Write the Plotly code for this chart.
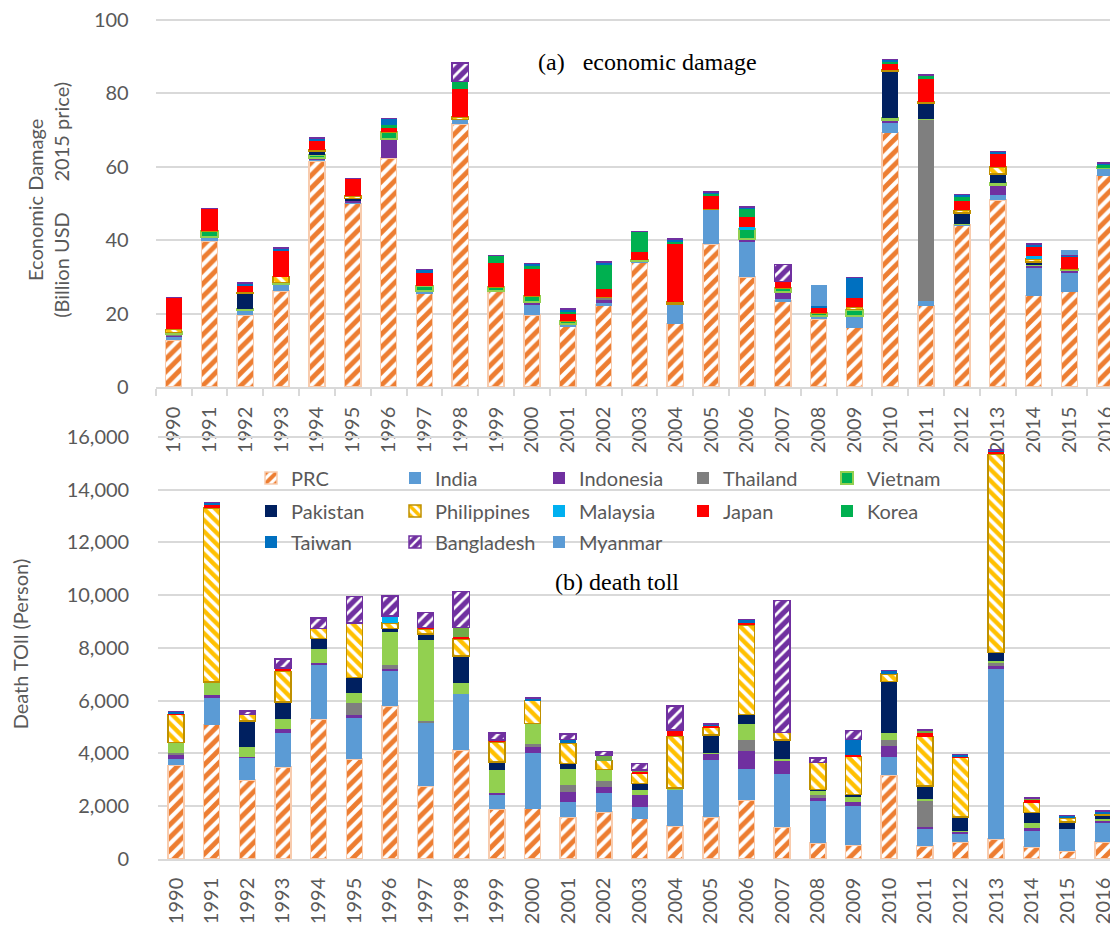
import plotly.graph_objects as go

years = [str(y) for y in range(1990, 2017)]
countries = ["PRC", "India", "Indonesia", "Thailand", "Vietnam", "Pakistan", "Philippines",
             "Malaysia", "Japan", "Korea", "Taiwan", "Bangladesh", "Myanmar"]

# ---- (a) economic damage, billion USD (2015 price) ----
dmg_prc = [12.7, 39.8, 19.5, 26.2, 61.5, 50.0, 62.4, 25.6, 71.6, 26.2, 19.6, 16.7, 22.4, 34.0,
           17.3, 38.9, 30.0, 23.5, 18.4, 16.2, 69.3, 22.2, 44.2, 50.9, 24.9, 26.0, 57.6]
dmg_india = [1.1, 1.1, 1.4, 1.8, 0.7, 0.5, 0, 0.5, 1.3, 0, 3.1, 0.4, 0.4, 0.4,
             5.3, 9.6, 9.8, 0.5, 0.9, 3.1, 2.9, 1.3, 0.3, 1.5, 7.5, 5.3, 2.0]
dmg_indonesia = [0.3, 0, 0, 0, 0.3, 0.4, 5.1, 0, 0, 0, 0.5, 0, 0.9, 0,
                 0, 0, 0.4, 1.8, 0, 0, 0.5, 0, 0, 2.7, 0.9, 0.5, 0]
dmg_thailand = [0.4, 0, 0, 0, 0, 0, 0, 0, 0, 0, 0, 0, 0.7, 0,
                0, 0, 0, 0, 0, 0, 0, 49.5, 0, 0, 0, 0, 0]
dmg_vietnam = [0.4, 1.5, 0.4, 0.5, 0.7, 0, 2.0, 1.5, 0, 1.0, 1.5, 0.9, 0, 0.3,
               0, 0, 2.9, 1.1, 0.9, 1.8, 0.7, 0, 0, 0.5, 0, 0.3, 0.4]
dmg_pakistan = [0, 0, 4.2, 0, 1.1, 0.5, 0, 0, 0, 0, 0, 0, 0, 0,
                0, 0, 0, 0, 0, 0, 12.7, 4.2, 2.9, 2.4, 0.7, 0, 0]
dmg_philippines = [0.8, 0, 0.3, 1.6, 0.3, 0.7, 0, 0, 0.7, 0, 0, 0, 0, 0,
                   0.5, 0, 0, 0, 0, 0.7, 0.4, 0.5, 0.7, 2.0, 0.9, 0, 0]
dmg_malaysia = [0, 0, 0, 0, 0, 0, 0, 0, 0, 0, 0, 0, 0, 0,
                0, 0, 0.5, 0, 0, 0, 0, 0, 0, 0, 0.7, 0, 0]
dmg_japan = [8.7, 6.2, 1.8, 7.3, 2.5, 4.7, 1.3, 3.5, 7.6, 6.7, 7.5, 2.0, 2.2, 2.2,
             15.8, 3.5, 2.7, 1.8, 1.5, 2.5, 1.8, 6.2, 2.7, 3.5, 2.5, 3.5, 0]
dmg_korea = [0, 0, 0, 0, 0, 0, 0.5, 0, 2.0, 2.0, 0.9, 0.5, 6.9, 5.5,
             0.7, 0.7, 2.4, 0, 0, 0, 0.5, 1.1, 0.9, 0, 0, 0, 0.4]
dmg_taiwan = [0, 0, 0.7, 0.5, 0.7, 0, 1.8, 0.9, 0, 0, 0.5, 0.7, 0.5, 0,
              0.7, 0.5, 0.3, 0, 0.5, 5.5, 0.4, 0, 0.7, 0.7, 0.9, 0.4, 0.7]
dmg_bangladesh = [0, 0, 0, 0, 0, 0, 0, 0, 5.1, 0, 0, 0, 0, 0,
                  0, 0, 0, 4.7, 0, 0, 0, 0, 0, 0, 0, 0, 0]
dmg_myanmar = [0, 0, 0, 0, 0, 0, 0, 0, 0, 0, 0, 0, 0, 0,
               0, 0, 0, 0, 5.6, 0, 0, 0, 0, 0, 0, 1.3, 0]

# ---- (b) death toll, persons ----
dth_prc = [3550, 5090, 3000, 3480, 5300, 3800, 5800, 2770, 4130, 1880, 1910, 1580, 1780, 1530,
           1250, 1600, 2240, 1200, 610, 530, 3170, 490, 650, 760, 460, 300, 650]
dth_india = [230, 1010, 830, 1290, 2050, 1540, 1340, 2380, 2120, 560, 2100, 580, 730, 430,
             1370, 2150, 1190, 2020, 1600, 1480, 710, 660, 330, 6430, 620, 850, 700]
dth_indonesia = [180, 100, 50, 150, 80, 130, 80, 0, 0, 50, 250, 380, 230, 450,
                 0, 230, 660, 510, 100, 150, 400, 50, 50, 130, 100, 0, 80]
dth_thailand = [75, 0, 0, 0, 0, 430, 130, 80, 0, 0, 100, 250, 230, 0,
                0, 0, 430, 0, 100, 0, 250, 1010, 0, 130, 0, 0, 0]
dth_vietnam = [380, 510, 350, 400, 530, 400, 1260, 3080, 430, 890, 780, 630, 430, 200,
               80, 50, 580, 80, 150, 180, 230, 50, 50, 50, 200, 0, 80]
dth_pakistan = [0, 0, 1010, 630, 400, 580, 130, 230, 1010, 300, 0, 200, 0, 250,
                0, 680, 380, 710, 80, 100, 1970, 510, 510, 330, 380, 250, 130]
dth_philippines = [1060, 6600, 230, 1160, 380, 2070, 200, 180, 660, 760, 860, 760, 330, 380,
                   1950, 280, 3390, 280, 1010, 1440, 280, 1870, 2250, 7510, 380, 150, 50]
dth_malaysia = [0, 0, 0, 0, 0, 0, 280, 0, 0, 0, 0, 0, 0, 0,
                0, 0, 0, 0, 0, 0, 0, 0, 0, 0, 0, 0, 0]
dth_japan = [50, 100, 0, 130, 0, 0, 0, 50, 80, 80, 0, 0, 0, 80,
             250, 50, 80, 0, 0, 50, 0, 130, 30, 80, 100, 0, 0]
dth_korea = [0, 0, 0, 0, 0, 0, 0, 0, 350, 0, 0, 0, 200, 50,
             0, 0, 0, 0, 0, 0, 0, 130, 0, 0, 80, 0, 0]
dth_taiwan = [75, 100, 0, 0, 0, 0, 0, 0, 0, 0, 100, 150, 0, 0,
              0, 80, 130, 0, 0, 610, 130, 0, 100, 80, 0, 100, 130]
dth_bangladesh = [0, 0, 150, 350, 400, 1010, 760, 580, 1370, 250, 0, 200, 150, 250,
                  910, 0, 0, 5000, 180, 330, 0, 0, 0, 0, 0, 0, 0]
dth_myanmar = [0] * 27

dmg = [dmg_prc, dmg_india, dmg_indonesia, dmg_thailand, dmg_vietnam, dmg_pakistan, dmg_philippines,
       dmg_malaysia, dmg_japan, dmg_korea, dmg_taiwan, dmg_bangladesh, dmg_myanmar]
dth = [dth_prc, dth_india, dth_indonesia, dth_thailand, dth_vietnam, dth_pakistan, dth_philippines,
       dth_malaysia, dth_japan, dth_korea, dth_taiwan, dth_bangladesh, dth_myanmar]

# page has an 8px body margin; the figure is sized so that it ends at the window edge
OFF = 8
W, H = 1118 - OFF, 925 - OFF


def px(x):
    return (x - OFF) / W


def py(y):
    return 1 - (y - OFF) / H


FONT = "Lato"
GREY = "#595959"
GRID = "#d9d9d9"


def marker_for(name, panel):
    if name == "PRC":
        return dict(color="#ed7d31", pattern=dict(shape="/", fgcolor="#ed7d31", bgcolor="white",
                                                  fgopacity=1, size=9, solidity=0.55),
                    line=dict(color="#f8cbad", width=1.5))
    if name == "Philippines":
        return dict(color="#ffc000", pattern=dict(shape="\\", fgcolor="#ffc000", bgcolor="white",
                                                  fgopacity=1, size=8, solidity=0.55),
                    line=dict(color="#bf9000", width=1.5))
    if name == "Bangladesh":
        return dict(color="#7030a0", pattern=dict(shape="/", fgcolor="white", bgcolor="#7030a0",
                                                  fgopacity=1, size=8, solidity=0.35),
                    line=dict(color="#7030a0", width=1.5))
    if name == "Vietnam":
        if panel == "a":
            return dict(color="#00b050", line=dict(color="#92d050", width=2))
        return dict(color="#92d050", line=dict(width=0))
    if name == "Korea":
        return dict(color="#00b050" if panel == "a" else "#70ad47", line=dict(width=0))
    solid = {"India": "#5b9bd5", "Indonesia": "#7030a0", "Thailand": "#7f7f7f",
             "Pakistan": "#002060", "Malaysia": "#00b0f0", "Japan": "#ff0000",
             "Taiwan": "#0070c0", "Myanmar": "#5b9bd5"}
    return dict(color=solid[name], line=dict(width=0))


legend_of = {}
for i, c in enumerate(countries):
    legend_of[c] = ["legend", "legend2", "legend3"][i // 5]

fig = go.Figure()
for c, vals in zip(countries, dmg):
    fig.add_trace(go.Bar(x=years, y=vals, name=c, marker=marker_for(c, "a"),
                         xaxis="x", yaxis="y", showlegend=True, legend=legend_of[c]))
for c, vals in zip(countries, dth):
    fig.add_trace(go.Bar(x=years, y=vals, name=c, marker=marker_for(c, "b"),
                         xaxis="x2", yaxis="y2", showlegend=False))

tickfont = dict(family=FONT, size=20, color=GREY)
legfont = dict(family=FONT, size=20, color=GREY)


def leg(y):
    return dict(orientation="h", x=px(251), xanchor="left", y=py(y), yanchor="middle",
                bgcolor="rgba(0,0,0,0)", font=legfont, entrywidth=99, entrywidthmode="pixels",
                traceorder="normal")


# top panel: 0 at y=387, 100 at y=20; range extended slightly so the
# top gridlines are not clipped at the plot edge
TOP_MAX = 102
BOT_MAX = 16300
top_px_per = (387 - 20) / 100
bot_px_per = (859 - 437) / 16000

fig.update_layout(
    width=W, height=H, margin=dict(l=0, r=0, t=0, b=0),
    paper_bgcolor="white", plot_bgcolor="white",
    barmode="stack", bargap=0.55,
    font=dict(family=FONT, color=GREY),
    xaxis=dict(domain=[px(155.7), 1], range=[-0.5, 26.355], type="category", anchor="y",
               tickangle=-90, tickfont=tickfont, ticks="outside", ticklen=7, tickcolor=GRID,
               tickwidth=1.5, tickson="boundaries", showline=True, linecolor=GRID, linewidth=1.5,
               showgrid=False, automargin=False, ticklabelstandoff=10),
    yaxis=dict(domain=[py(387), py(387 - TOP_MAX * top_px_per)], range=[0, TOP_MAX],
               tickvals=[0, 20, 40, 60, 80, 100], anchor="x",
               gridcolor=GRID, gridwidth=1.5, zeroline=False, showline=False,
               tickfont=tickfont, ticks="", automargin=False, ticklabelstandoff=26,
               ticklabeloverflow="allow",
               title=dict(text="Economic Damage<br>(Billion USD\u00a0\u00a0\u00a0\u00a0\u00a0 2015 price)",
                          font=dict(family=FONT, size=20, color=GREY), standoff=18)),
    xaxis2=dict(domain=[px(158.2), 1], range=[-0.5, 26.42], type="category", anchor="y2",
                tickangle=-90, tickfont=tickfont, ticks="", showline=True, linecolor=GRID,
                linewidth=1.5, showgrid=False, automargin=False, ticklabelstandoff=9),
    yaxis2=dict(domain=[py(859), py(859 - BOT_MAX * bot_px_per)], range=[0, BOT_MAX],
                tickvals=list(range(0, 16001, 2000)), anchor="x2",
                tickformat=",", gridcolor=GRID, gridwidth=1.5, zeroline=False, showline=False,
                tickfont=tickfont, ticks="", automargin=False, ticklabelstandoff=28,
                ticklabeloverflow="allow",
                title=dict(text="Death TOll (Person)", font=dict(family=FONT, size=20, color=GREY),
                           standoff=34)),
    legend=leg(478), legend2=leg(511), legend3=leg(542),
    annotations=[
        dict(text="(a)\u00a0\u00a0 economic damage", x=px(647), y=py(62), xref="paper",
             yref="paper", showarrow=False, xanchor="center", yanchor="middle",
             font=dict(family="Liberation Serif", size=24, color="black")),
        dict(text="(b) death toll", x=px(617), y=py(582), xref="paper", yref="paper",
             showarrow=False, xanchor="center", yanchor="middle",
             font=dict(family="Liberation Serif", size=24, color="black")),
    ],
)

fig.write_html("out.html")
